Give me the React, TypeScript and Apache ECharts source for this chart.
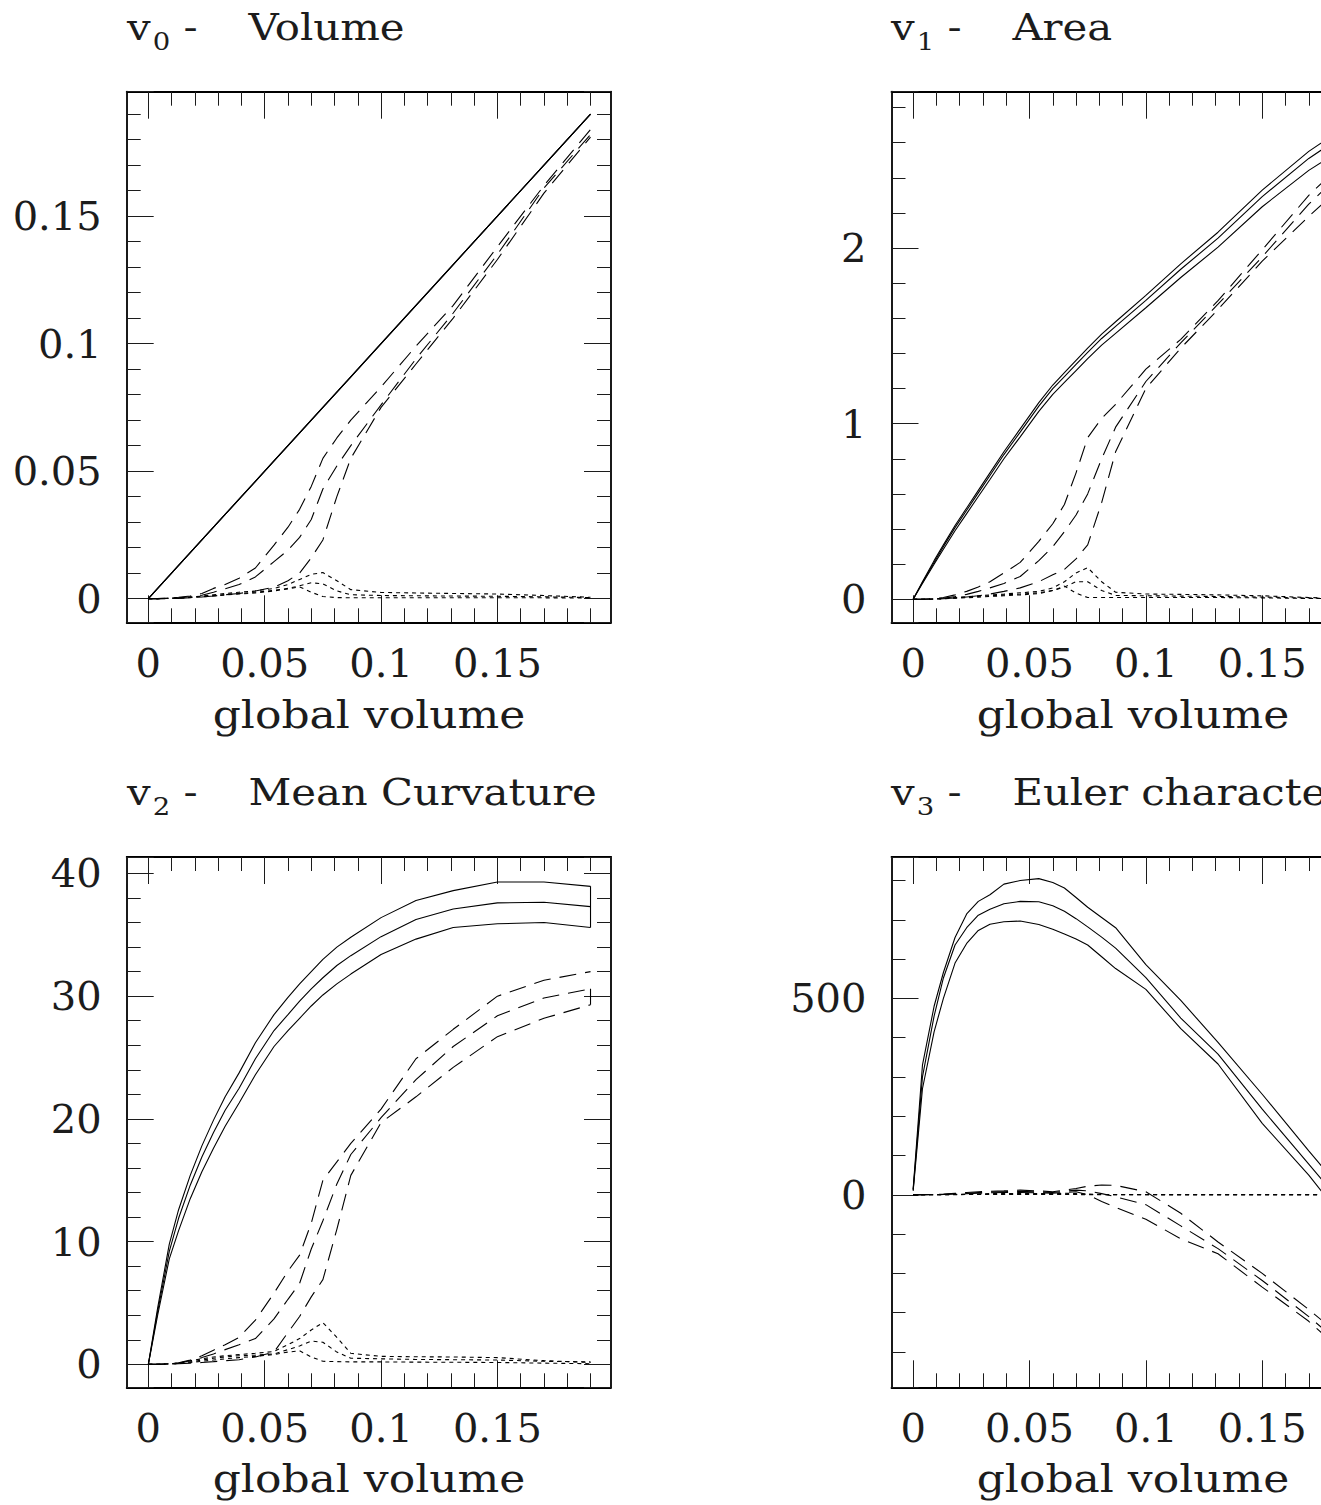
import React, { useEffect, useRef } from "react";
import * as echarts from "echarts";

// ---------- data ----------
const X = [0, 0.004, 0.009, 0.013, 0.018, 0.023, 0.028, 0.033, 0.039, 0.046, 0.054, 0.06, 0.065, 0.07, 0.075, 0.081, 0.087, 0.1, 0.115, 0.131, 0.15, 0.17, 0.19];

// v0 - Volume
const V0_SOLID_HI = [0, 0.004, 0.009, 0.013, 0.018, 0.023, 0.028, 0.033, 0.039, 0.046, 0.054, 0.06, 0.065, 0.07, 0.075, 0.081, 0.087, 0.1, 0.115, 0.131, 0.15, 0.17, 0.19];
const V0_SOLID_MID = [0, 0.004, 0.009, 0.013, 0.018, 0.023, 0.028, 0.033, 0.039, 0.046, 0.054, 0.06, 0.065, 0.07, 0.075, 0.081, 0.087, 0.1, 0.115, 0.131, 0.15, 0.17, 0.19];
const V0_SOLID_LO = [0, 0.004, 0.009, 0.013, 0.018, 0.023, 0.028, 0.033, 0.039, 0.046, 0.054, 0.06, 0.065, 0.07, 0.075, 0.081, 0.087, 0.1, 0.115, 0.131, 0.15, 0.17, 0.19];
const V0_DASH_HI = [0, 0, 0.0002, 0.0005, 0.001, 0.002, 0.004, 0.0055, 0.008, 0.012, 0.021, 0.028, 0.035, 0.044, 0.055, 0.063, 0.07, 0.083, 0.099, 0.115, 0.138, 0.162, 0.184];
const V0_DASH_MID = [0, 0, 0.0001, 0.0003, 0.0007, 0.0013, 0.0025, 0.0038, 0.0055, 0.0085, 0.0145, 0.019, 0.024, 0.031, 0.043, 0.052, 0.06, 0.076, 0.094, 0.112, 0.135, 0.161, 0.182];
const V0_DASH_LO = [0, 0, 0, 0.0001, 0.0003, 0.0006, 0.001, 0.0015, 0.002, 0.003, 0.0045, 0.007, 0.01, 0.016, 0.023, 0.04, 0.055, 0.075, 0.092, 0.11, 0.133, 0.159, 0.181];
const V0_DOT_HI = [0, 0, 0.0001, 0.0003, 0.0006, 0.001, 0.0015, 0.002, 0.0025, 0.003, 0.004, 0.0055, 0.0075, 0.0095, 0.0102, 0.007, 0.0035, 0.0024, 0.0022, 0.002, 0.0018, 0.0012, 0.0005];
const V0_DOT_MID = [0, 0, 0.0001, 0.0002, 0.0005, 0.0008, 0.0012, 0.0016, 0.002, 0.0025, 0.0032, 0.004, 0.005, 0.0062, 0.0058, 0.003, 0.0015, 0.0012, 0.0011, 0.001, 0.0009, 0.0007, 0.0004];
const V0_DOT_LO = [0, 0, 0.0001, 0.0002, 0.0004, 0.0007, 0.001, 0.0014, 0.0018, 0.0022, 0.003, 0.0038, 0.0046, 0.0025, 0.0008, 0.0004, 0.0003, 0.0003, 0.0003, 0.0003, 0.0003, 0.0003, 0.0002];

// v1 - Area
const V1_SOLID_HI = [0, 0.1, 0.22, 0.31, 0.42, 0.52, 0.62, 0.72, 0.84, 0.97, 1.12, 1.22, 1.29, 1.36, 1.43, 1.51, 1.58, 1.73, 1.91, 2.09, 2.33, 2.55, 2.73];
const V1_SOLID_MID = [0, 0.095, 0.21, 0.3, 0.408, 0.507, 0.606, 0.705, 0.824, 0.952, 1.1, 1.199, 1.268, 1.337, 1.406, 1.485, 1.554, 1.702, 1.879, 2.056, 2.293, 2.51, 2.687];
const V1_SOLID_LO = [0, 0.09, 0.2, 0.285, 0.39, 0.488, 0.585, 0.682, 0.8, 0.925, 1.07, 1.167, 1.235, 1.302, 1.37, 1.447, 1.514, 1.66, 1.832, 2.005, 2.235, 2.442, 2.61];
const V1_DASH_HI = [0, 0, 0.005, 0.01, 0.025, 0.045, 0.07, 0.1, 0.15, 0.21, 0.33, 0.43, 0.54, 0.72, 0.92, 1.03, 1.11, 1.31, 1.48, 1.7, 1.99, 2.3, 2.55];
const V1_DASH_MID = [0, 0, 0.003, 0.006, 0.015, 0.028, 0.045, 0.065, 0.09, 0.13, 0.22, 0.3, 0.385, 0.48, 0.6, 0.8, 0.98, 1.24, 1.46, 1.68, 1.95, 2.25, 2.5];
const V1_DASH_LO = [0, 0, 0.001, 0.003, 0.007, 0.013, 0.02, 0.03, 0.045, 0.065, 0.1, 0.14, 0.17, 0.23, 0.31, 0.55, 0.84, 1.2, 1.43, 1.65, 1.925, 2.18, 2.42];
const V1_DOT_HI = [0, 0, 0.002, 0.005, 0.01, 0.015, 0.02, 0.025, 0.03, 0.037, 0.045, 0.065, 0.1, 0.15, 0.18, 0.1, 0.04, 0.03, 0.028, 0.025, 0.02, 0.01, 0.004];
const V1_DOT_MID = [0, 0, 0.002, 0.004, 0.008, 0.012, 0.016, 0.02, 0.025, 0.03, 0.037, 0.05, 0.07, 0.1, 0.1, 0.05, 0.022, 0.02, 0.018, 0.016, 0.013, 0.007, 0.003];
const V1_DOT_LO = [0, 0, 0.001, 0.003, 0.006, 0.009, 0.012, 0.016, 0.02, 0.025, 0.032, 0.05, 0.075, 0.035, 0.01, 0.01, 0.01, 0.01, 0.01, 0.01, 0.008, 0.005, 0.002];

// v2 - Mean Curvature
const V2_SOLID_HI = [0, 4.6, 9.8, 12.6, 15.4, 17.8, 19.9, 21.8, 23.75, 26.2, 28.5, 29.9, 31.0, 32.0, 33.0, 34.0, 34.8, 36.4, 37.8, 38.6, 39.3, 39.3, 38.95];
const V2_SOLID_MID = [0, 4.3, 9.2, 11.9, 14.6, 16.9, 18.9, 20.7, 22.5, 24.9, 27.2, 28.5, 29.6, 30.6, 31.5, 32.5, 33.3, 34.85, 36.25, 37.1, 37.6, 37.65, 37.3];
const V2_SOLID_LO = [0, 4.0, 8.6, 10.9, 13.5, 15.7, 17.6, 19.4, 21.3, 23.6, 25.9, 27.2, 28.2, 29.2, 30.1, 31.0, 31.8, 33.4, 34.65, 35.6, 35.9, 36.0, 35.6];
const V2_DASH_HI = [0, 0.01, 0.05, 0.12, 0.35, 0.7, 1.15, 1.6, 2.2, 3.6, 5.8, 7.6, 8.9, 11.5, 15.0, 16.5, 18.0, 20.8, 24.9, 27.3, 30.0, 31.3, 32.0];
const V2_DASH_MID = [0, 0.01, 0.04, 0.1, 0.3, 0.55, 0.85, 1.2, 1.6, 2.1, 3.7, 5.3, 6.6, 9.4, 11.7, 14.7, 17.1, 20.1, 23.2, 25.9, 28.4, 29.85, 30.6];
const V2_DASH_LO = [0, 0, 0.02, 0.05, 0.1, 0.15, 0.22, 0.3, 0.38, 0.6, 1.0, 2.6, 3.9, 5.5, 6.9, 11.0, 15.4, 19.7, 21.8, 24.2, 26.7, 28.2, 29.3];
const V2_DOT_HI = [0, 0, 0.05, 0.1, 0.3, 0.45, 0.6, 0.7, 0.8, 0.9, 1.05, 1.6, 2.1, 2.8, 3.4, 2.2, 0.9, 0.65, 0.62, 0.6, 0.55, 0.3, 0.15];
const V2_DOT_MID = [0, 0, 0.04, 0.08, 0.2, 0.35, 0.5, 0.6, 0.7, 0.75, 0.85, 1.2, 1.5, 1.9, 1.8, 1.0, 0.5, 0.45, 0.4, 0.38, 0.35, 0.25, 0.2];
const V2_DOT_LO = [0, 0, 0.03, 0.06, 0.15, 0.25, 0.35, 0.45, 0.55, 0.65, 0.8, 1.0, 1.1, 0.6, 0.25, 0.22, 0.2, 0.2, 0.18, 0.17, 0.15, 0.1, 0.05];
// closing segments drawn at the last sample of v2
const V2_SOLID_END_X = [0.19, 0.19];
const V2_SOLID_END_Y = [35.6, 38.95];
const V2_DASH_END_X = [0.19, 0.19];
const V2_DASH_END_Y = [29.3, 30.6];

// v3 - Euler characteristic
const V3_SOLID_HI = [15, 330, 480, 566, 655, 715, 747, 764, 791, 800, 805, 795, 781, 757, 732, 706, 680, 586, 495, 388, 256, 112, -30];
const V3_SOLID_MID = [12, 300, 455, 552, 636, 680, 712, 727, 741, 747, 746, 736, 722, 703, 682, 656, 628, 553, 450, 358, 218, 78, -62];
const V3_SOLID_LO = [10, 270, 415, 500, 590, 640, 673, 689, 695, 697, 688, 676, 664, 651, 636, 606, 576, 523, 423, 333, 182, 50, -100];
const V3_DASH_HI = [0, 0, 1, 2, 4, 6, 8, 9, 10, 12, 10, 8, 12, 16, 22, 25, 24, 8, -47, -120, -200, -292, -390];
const V3_DASH_MID = [0, 0, 1, 1, 3, 4, 6, 7, 8, 9, 7, 6, 9, 12, 10, 3, -5, -25, -79, -137, -218, -310, -410];
const V3_DASH_LO = [0, 0, 0, 1, 2, 3, 4, 5, 6, 6, 5, 4, 6, 8, 0, -17, -32, -62, -112, -150, -235, -322, -428];
const V3_DOT_HI = [0, 0, 0, 1, 1, 2, 2, 3, 3, 3, 3, 3, 4, 3, 2, 1, 1, 1, 0, 0, 0, 0, 0];
const V3_DOT_MID = [0, 0, 0, 0, 1, 1, 1, 2, 2, 2, 2, 2, 2, 2, 1, 1, 0, 0, 0, 0, 0, 0, 0];
const V3_DOT_LO = [0, 0, 0, 0, 0, 1, 1, 1, 1, 1, 1, 1, 1, 1, 0, 0, 0, 0, 0, 0, 0, 0, 0];

const TITLES = [
  { sym: "v", sub: "0", name: "Volume" },
  { sym: "v", sub: "1", name: "Area" },
  { sym: "v", sub: "2", name: "Mean Curvature" },
  { sym: "v", sub: "3", name: "Euler characteristic" },
];
const X_NAME = "global volume";

// ---------- styling / layout ----------
const FONT = '"DejaVu Serif", serif';
const INK = "#1c1c1c";
const SOLID = "solid";
const DASH = [17, 9];
const DOT = [4, 4];

const PANELS = [
  { left: 126.7, top: 91.7, height: 530.6, ymin: -0.0093, ymax: 0.1988, ysplit: 4, ystep: 0.05 },
  { left: 891.5, top: 91.7, height: 530.6, ymin: -0.131, ymax: 2.89, ysplit: 3, ystep: 1 },
  { left: 126.7, top: 857, height: 530.3, ymin: -1.87, ymax: 41.34, ysplit: 4, ystep: 10 },
  { left: 891.5, top: 857, height: 530.3, ymin: -490, ymax: 860, ysplit: 3, ystep: 500 },
];
const PANEL_W = 484.3;
const XMIN = -0.0093;
const XMAX = 0.1988;
const XSTEP = 0.05;

const SERIES = [
  [
    [V0_SOLID_HI, SOLID], [V0_SOLID_MID, SOLID], [V0_SOLID_LO, SOLID],
    [V0_DASH_HI, DASH], [V0_DASH_MID, DASH], [V0_DASH_LO, DASH],
    [V0_DOT_HI, DOT], [V0_DOT_MID, DOT], [V0_DOT_LO, DOT],
  ],
  [
    [V1_SOLID_HI, SOLID], [V1_SOLID_MID, SOLID], [V1_SOLID_LO, SOLID],
    [V1_DASH_HI, DASH], [V1_DASH_MID, DASH], [V1_DASH_LO, DASH],
    [V1_DOT_HI, DOT], [V1_DOT_MID, DOT], [V1_DOT_LO, DOT],
  ],
  [
    [V2_SOLID_HI, SOLID], [V2_SOLID_MID, SOLID], [V2_SOLID_LO, SOLID],
    [V2_DASH_HI, DASH], [V2_DASH_MID, DASH], [V2_DASH_LO, DASH],
    [V2_DOT_HI, DOT], [V2_DOT_MID, DOT], [V2_DOT_LO, DOT],
  ],
  [
    [V3_SOLID_HI, SOLID], [V3_SOLID_MID, SOLID], [V3_SOLID_LO, SOLID],
    [V3_DASH_HI, DASH], [V3_DASH_MID, DASH], [V3_DASH_LO, DASH],
    [V3_DOT_HI, DOT], [V3_DOT_MID, DOT], [V3_DOT_LO, DOT],
  ],
];

function fmt(step: number) {
  return (v: number) => {
    const k = v / step;
    return Math.abs(k - Math.round(k)) < 1e-6 ? String(+v.toFixed(4)) : "";
  };
}

function makeAxis(grid: number, position: string, min: number, max: number, split: number, step: number, labels: boolean) {
  const horizontal = position === "bottom" || position === "top";
  return {
    type: "value",
    gridIndex: grid,
    position,
    min,
    max,
    splitNumber: split,
    silent: true,
    axisLine: { show: true, onZero: false, lineStyle: { color: "#000", width: 1.8 } },
    axisTick: { show: true, inside: true, length: 27, lineStyle: { color: INK, width: 1 } },
    minorTick: { show: true, splitNumber: 5, length: 14, lineStyle: { color: INK, width: 1 } },
    splitLine: { show: false },
    minorSplitLine: { show: false },
    axisLabel: labels
      ? {
          show: true,
          color: INK,
          fontFamily: FONT,
          fontSize: 40,
          lineHeight: 40,
          margin: horizontal ? 21 : 25,
          formatter: fmt(step),
        }
      : { show: false },
  };
}

function titleText(i: number, x: number, y: number) {
  const t = TITLES[i];
  return {
    type: "text",
    x,
    y,
    scaleX: 1.1,
    silent: true,
    style: {
      text: `{v|${t.sym}}{s|${t.sub}}{d| -}{t| ${t.name}}`,
      align: "left",
      verticalAlign: "middle",
      fill: INK,
      rich: {
        v: { fontFamily: FONT, fontSize: 38, fill: INK },
        s: { fontFamily: FONT, fontSize: 25, fill: INK, padding: [28, 0, 0, 2] },
        d: { fontFamily: FONT, fontSize: 38, fill: INK, padding: [0, 34, 0, 0] },
        t: { fontFamily: FONT, fontSize: 38, fill: INK },
      },
    },
  };
}

function nameText(x: number, y: number) {
  return {
    type: "text",
    x,
    y,
    scaleX: 1.1,
    silent: true,
    style: {
      text: X_NAME,
      align: "center",
      verticalAlign: "middle",
      fontFamily: FONT,
      fontSize: 40,
      fill: INK,
    },
  };
}

function lineSeries(g: number, data: number[][], type: any) {
  return {
    type: "line",
    xAxisIndex: 2 * g,
    yAxisIndex: 2 * g,
    data,
    showSymbol: false,
    symbol: "none",
    silent: true,
    lineStyle: { color: "#000", width: 1.1, type },
  };
}

function buildOption() {
  const grid: any[] = [];
  const xAxis: any[] = [];
  const yAxis: any[] = [];
  const series: any[] = [];
  PANELS.forEach((p, g) => {
    grid.push({ left: p.left, top: p.top, width: PANEL_W, height: p.height, containLabel: false, outerBoundsMode: "none" });
    xAxis.push(makeAxis(g, "bottom", XMIN, XMAX, 4, XSTEP, true));
    xAxis.push(makeAxis(g, "top", XMIN, XMAX, 4, XSTEP, false));
    yAxis.push(makeAxis(g, "left", p.ymin, p.ymax, p.ysplit, p.ystep, true));
    yAxis.push(makeAxis(g, "right", p.ymin, p.ymax, p.ysplit, p.ystep, false));
    SERIES[g].forEach(([ys, type]: any) => {
      series.push(lineSeries(g, X.map((x, i) => [x, ys[i]]), type));
    });
  });
  // closing vertical segments of panel v2
  series.push(lineSeries(2, V2_SOLID_END_X.map((x, i) => [x, V2_SOLID_END_Y[i]]), SOLID));
  series.push(lineSeries(2, V2_DASH_END_X.map((x, i) => [x, V2_DASH_END_Y[i]]), SOLID));

  const graphic = [
    titleText(0, 127, 27),
    titleText(1, 891, 27),
    titleText(2, 127, 792),
    titleText(3, 891, 792),
    nameText(369, 714),
    nameText(1133, 714),
    nameText(369, 1478),
    nameText(1133, 1478),
  ];

  return {
    animation: false,
    backgroundColor: "#fff",
    grid,
    xAxis,
    yAxis,
    series,
    graphic,
  };
}

export default function App() {
  const ref = useRef<HTMLDivElement>(null);
  useEffect(() => {
    const chart = echarts.init(ref.current as HTMLDivElement, null, { renderer: "svg" });
    chart.setOption(buildOption() as any);
    return () => chart.dispose();
  }, []);
  return (
    <div style={{ position: "absolute", left: 0, top: 0, width: 1321, height: 1505, overflow: "hidden", background: "#fff" }}>
      <div ref={ref} style={{ width: 1420, height: 1505 }} />
    </div>
  );
}
